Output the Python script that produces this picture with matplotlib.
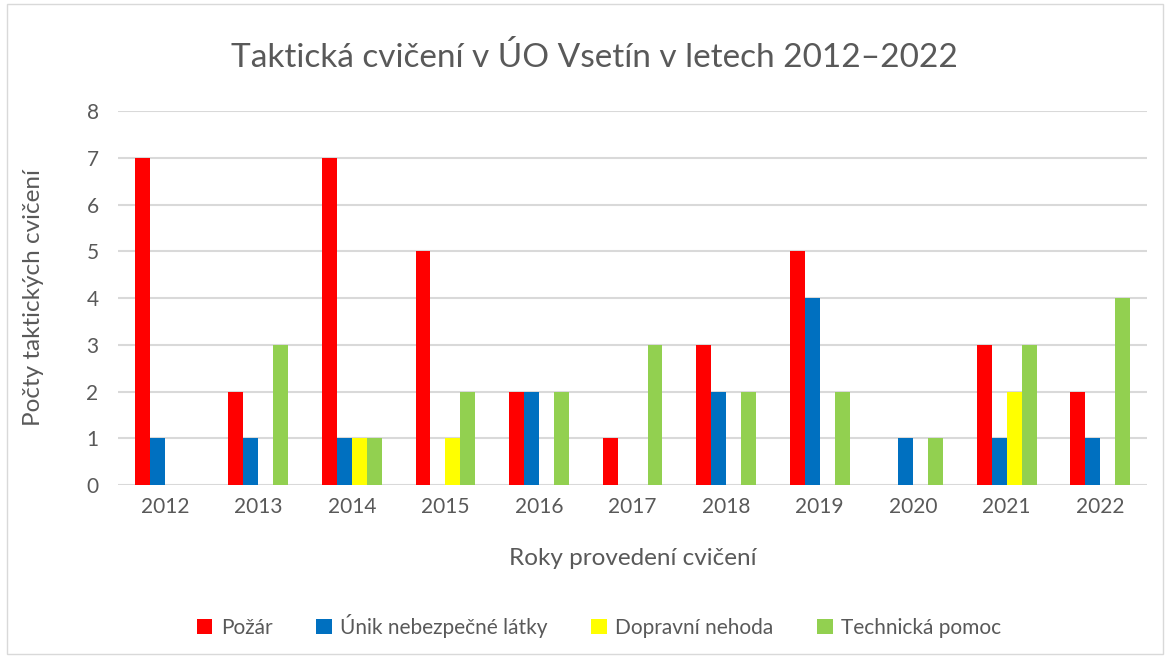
import matplotlib
matplotlib.use("Agg")
import matplotlib.pyplot as plt
import numpy as np
from matplotlib.patches import Rectangle

years = ["2012", "2013", "2014", "2015", "2016", "2017", "2018", "2019", "2020", "2021", "2022"]
pozar = [7, 2, 7, 5, 2, 1, 3, 5, 0, 3, 2]
unik = [1, 1, 1, 0, 2, 0, 2, 4, 1, 1, 1]
dopravni = [0, 0, 1, 1, 0, 0, 0, 0, 0, 2, 0]
technicka = [0, 3, 1, 2, 2, 3, 2, 2, 1, 3, 4]
series_names = ["Požár", "Únik nebezpečné látky", "Dopravní nehoda", "Technická pomoc"]
colors = ["#ff0000", "#0070c0", "#ffff00", "#92d050"]

plt.rcParams['font.family'] = ['Lato', 'DejaVu Sans']

fig = plt.figure(figsize=(11.7, 6.57), dpi=100)
fig.patches.append(Rectangle((0.006, 0.004), 0.988, 0.99, transform=fig.transFigure,
                             fill=False, edgecolor="#d9d9d9", linewidth=1))
ax = fig.add_axes([0.1009, 0.2618, 0.8795, 0.5692])

x = np.arange(len(years))
w = 0.16
data = [pozar, unik, dopravni, technicka]
for i, (vals, c, name) in enumerate(zip(data, colors, series_names)):
    ax.bar(x + (i - 1.5) * w, vals, width=w, color=c, label=name, zorder=3)

ax.set_xlim(-0.5, len(years) - 0.5)
ax.set_ylim(0, 8)
ax.set_yticks(range(0, 9))
ax.set_xticks(x)
ax.set_xticklabels(years)
ax.tick_params(axis='both', length=0, labelsize=15, colors="#595959")
ax.tick_params(axis='x', pad=9)
ax.tick_params(axis='y', pad=14)
ax.yaxis.grid(True, color="#d9d9d9", linewidth=1.5, zorder=0)
for s in ax.spines.values():
    s.set_visible(False)

fig.text(0.508, 0.912, "Taktická cvičení v ÚO Vsetín v letech 2012–2022", fontsize=24,
         color="#595959", ha="center", va="center")
ax.set_xlabel("Roky provedení cvičení", fontsize=17.5, color="#595959", labelpad=22)
ax.yaxis.set_label_coords(-0.072, 0.5)
ax.set_ylabel("Počty taktických cvičení", fontsize=17.5, color="#595959")

leg = fig.legend(loc="center", bbox_to_anchor=(0.512, 0.047), ncol=4, frameon=False,
                 fontsize=15, handlelength=0.75, handleheight=0.75, handletextpad=0.4,
                 columnspacing=2.1, labelcolor="#595959")

fig.savefig("out.png", dpi=100)
